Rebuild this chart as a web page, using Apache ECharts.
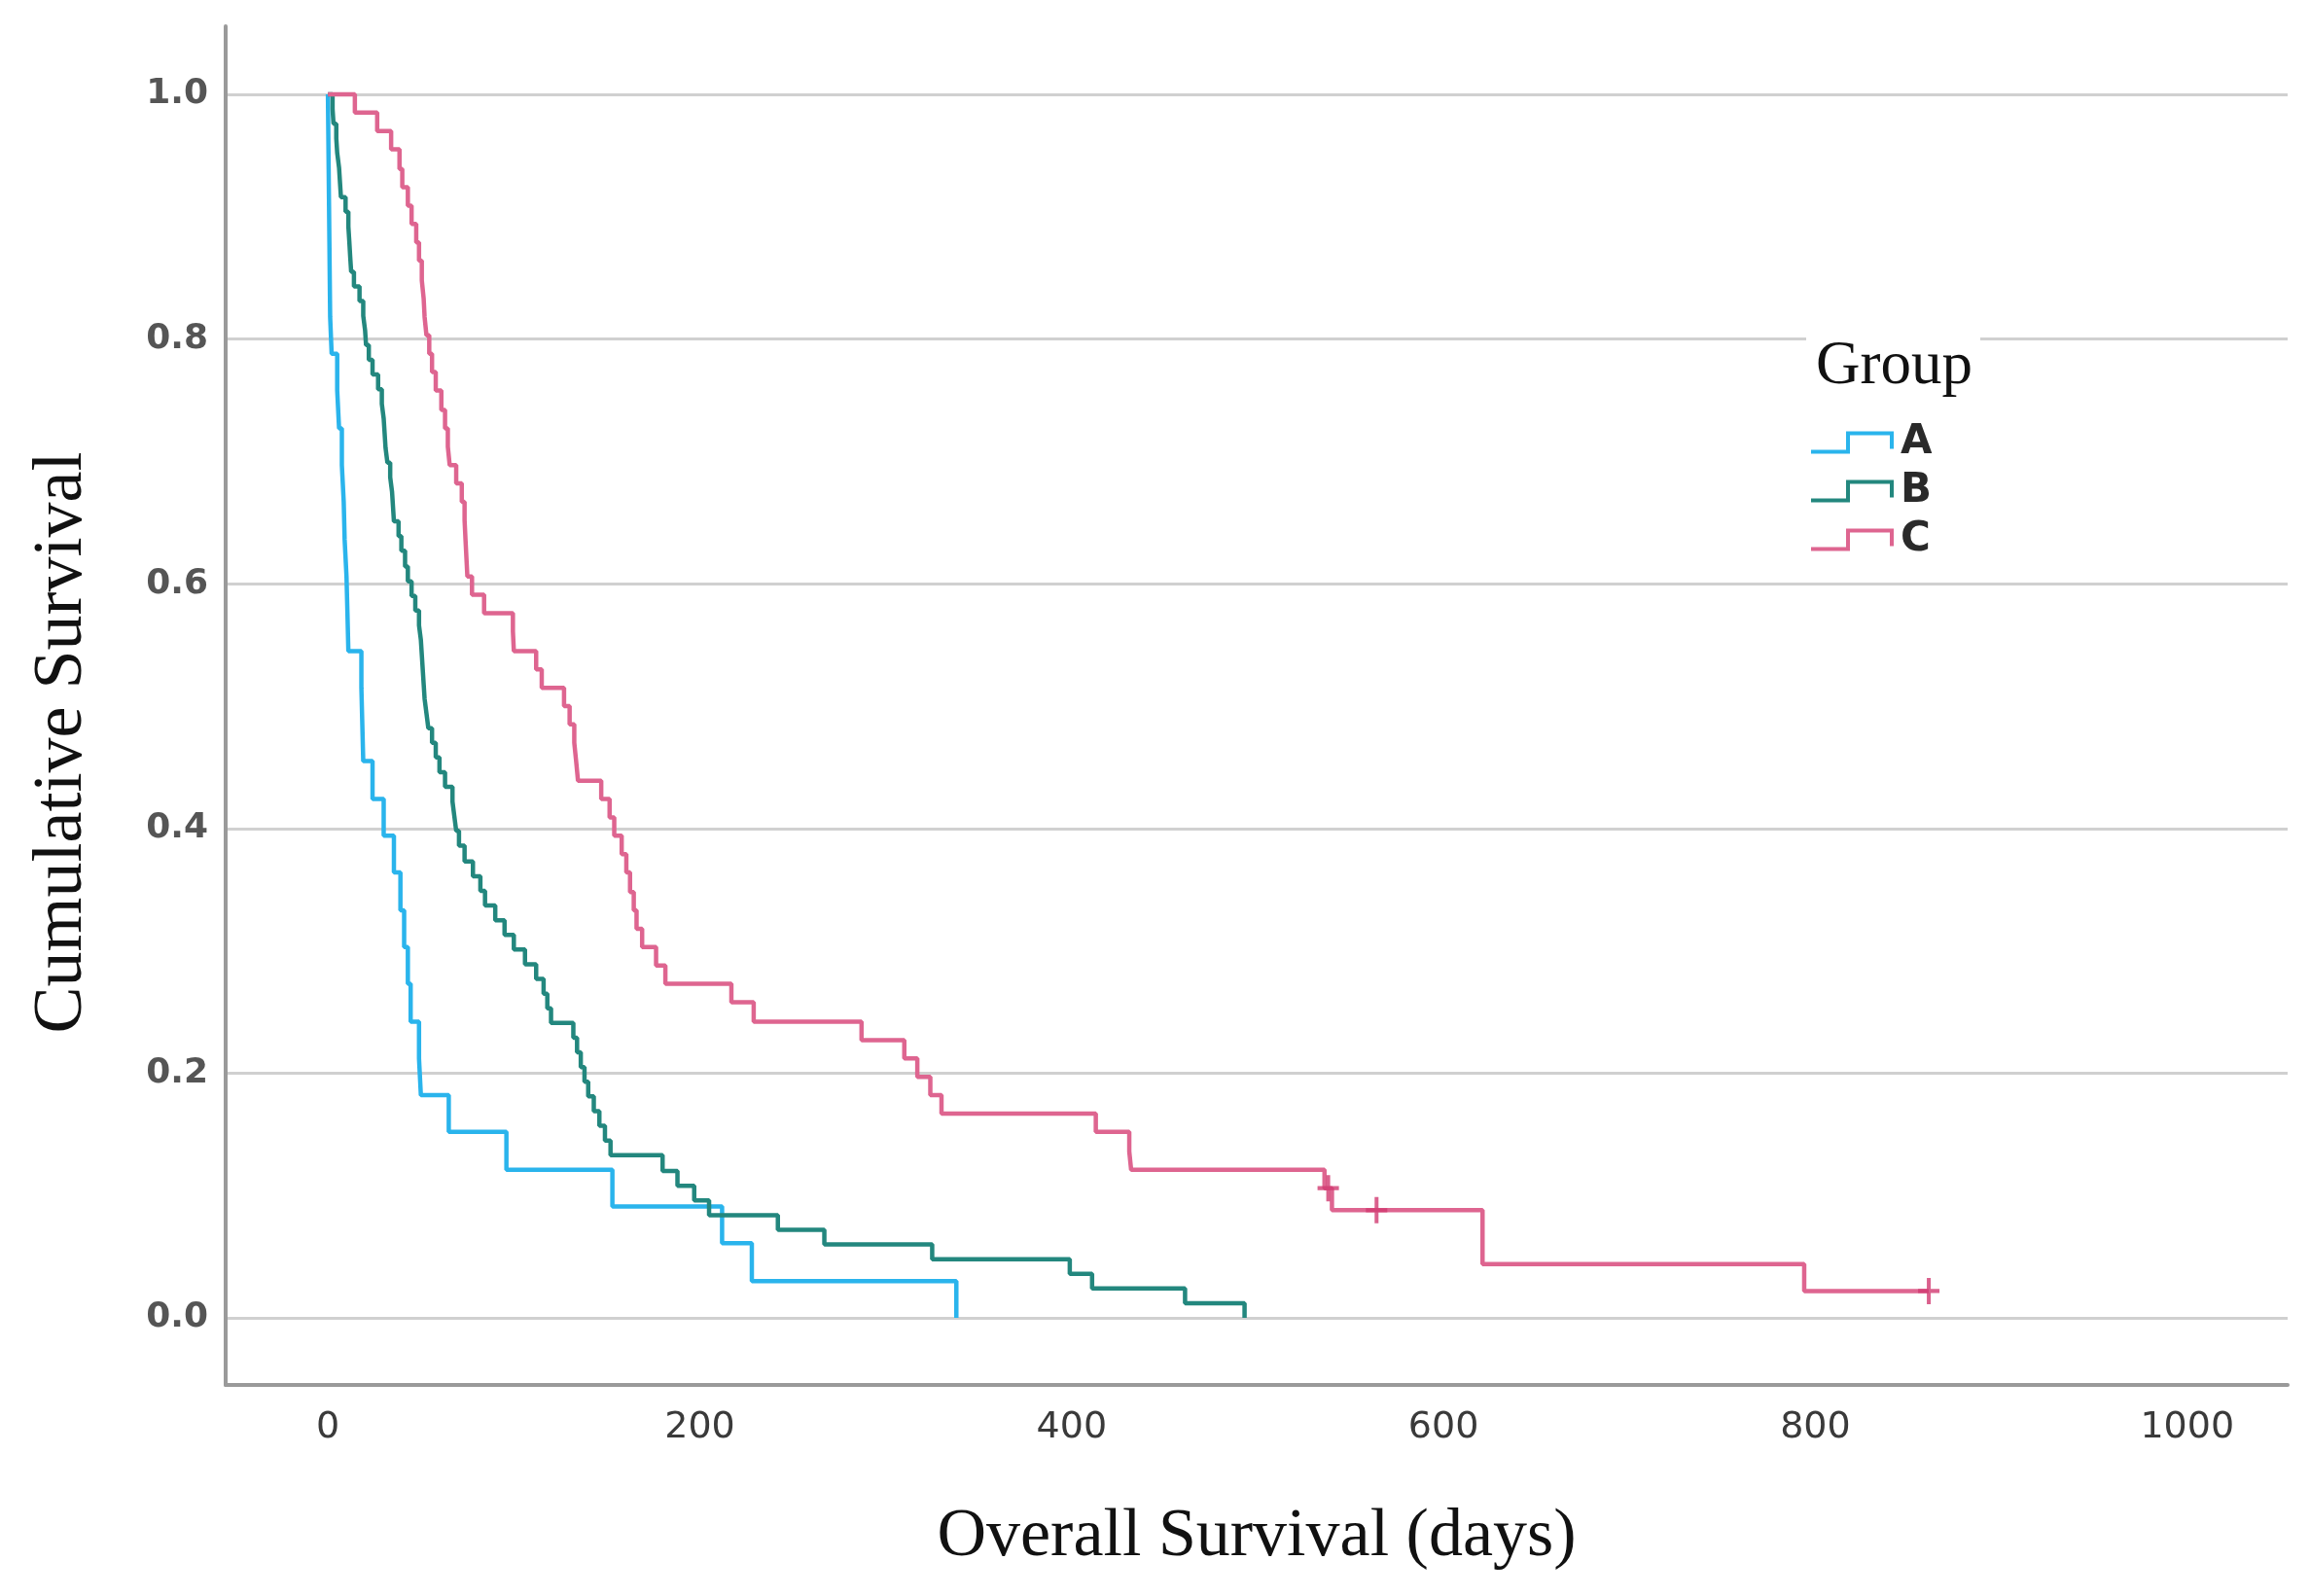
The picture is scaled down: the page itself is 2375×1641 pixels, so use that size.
<!DOCTYPE html>
<html>
<head>
<meta charset="utf-8">
<script src="https://cdn.jsdelivr.net/npm/echarts@6/dist/echarts.min.js"></script>
<style>html,body{margin:0;padding:0;background:#fff}#c{width:2375px;height:1641px}</style>
</head>
<body>
<div id="c"></div>
<script>
// ---- data ----
const groupNames = ['A', 'B', 'C'];
const xTickValues = [0, 200, 400, 600, 800, 1000];
const yTickValues = [0, 0.2, 0.4, 0.6, 0.8, 1.0];

// Group A: event days and survival after each event
const aDays = [0.2, 0.4, 0.6, 0.8, 1.0, 1.2, 2, 5, 6, 7.5, 8.5, 9, 10, 10.5, 11, 18, 18.5, 19, 24, 30, 35.5, 39, 41, 43, 44.5, 49, 50, 65, 96, 153, 212, 228, 338];
const aSurv = [0.970, 0.939, 0.909, 0.879, 0.848, 0.818, 0.788, 0.758, 0.727, 0.697, 0.667, 0.636, 0.606, 0.576, 0.545, 0.515, 0.485, 0.455, 0.424, 0.394, 0.364, 0.333, 0.303, 0.273, 0.242, 0.212, 0.182, 0.152, 0.121, 0.091, 0.061, 0.030, 0];

// Group B
const bDays = [2.5, 3, 4.5, 5, 6, 6.5, 7, 9.5, 11, 11.5, 12, 12.5, 14, 17, 19, 20, 20.5, 22, 24, 27, 29, 30, 30.5, 31, 32, 33.5, 34.5, 35, 35.5, 38, 39.5, 41.5, 43, 45, 47, 49, 50, 50.5, 51, 51.5, 52, 53, 54, 56, 58, 60, 63, 67, 68, 69, 70.5, 73.5, 78, 82, 84.5, 90, 95, 100, 106, 112, 116, 118, 120, 132, 134, 136, 138, 140, 143, 146, 149, 152, 180, 188, 197, 205, 242, 267, 325, 399, 411, 461, 493];
const bSurv = [0.988, 0.976, 0.964, 0.952, 0.940, 0.928, 0.916, 0.904, 0.892, 0.880, 0.867, 0.855, 0.843, 0.831, 0.819, 0.807, 0.795, 0.783, 0.771, 0.759, 0.747, 0.735, 0.723, 0.711, 0.699, 0.687, 0.675, 0.663, 0.651, 0.639, 0.627, 0.614, 0.602, 0.590, 0.578, 0.566, 0.554, 0.542, 0.530, 0.518, 0.506, 0.494, 0.482, 0.470, 0.458, 0.446, 0.434, 0.422, 0.410, 0.398, 0.386, 0.373, 0.361, 0.349, 0.337, 0.325, 0.313, 0.301, 0.289, 0.277, 0.265, 0.253, 0.241, 0.229, 0.217, 0.205, 0.193, 0.181, 0.169, 0.157, 0.145, 0.133, 0.120, 0.108, 0.096, 0.084, 0.072, 0.060, 0.048, 0.036, 0.024, 0.012, 0];

// Group C (includes censored times, where survival does not change)
const cDays = [14.5, 26.5, 34, 38.5, 40, 43, 45, 47.5, 49, 50.5, 51.5, 52, 53, 54.5, 56, 58, 61, 63, 64.5, 65.5, 69, 72, 73.5, 74, 74.5, 75, 77.5, 84, 99.5, 100, 112, 115, 127, 130, 132.5, 133.5, 134.5, 147, 151.5, 154, 158, 160.5, 162.5, 164.5, 166, 169, 176.5, 181.5, 217, 229, 287, 310, 317, 324, 330, 413, 431, 432, 536, 538, 540, 564, 621, 794, 861];
const cSurv = [0.985, 0.970, 0.955, 0.939, 0.924, 0.909, 0.894, 0.879, 0.864, 0.848, 0.833, 0.818, 0.803, 0.788, 0.773, 0.758, 0.742, 0.727, 0.712, 0.697, 0.682, 0.667, 0.652, 0.636, 0.621, 0.606, 0.591, 0.576, 0.561, 0.545, 0.530, 0.515, 0.500, 0.485, 0.470, 0.455, 0.439, 0.424, 0.409, 0.394, 0.379, 0.364, 0.348, 0.333, 0.318, 0.303, 0.288, 0.273, 0.258, 0.242, 0.227, 0.212, 0.197, 0.182, 0.167, 0.152, 0.136, 0.121, 0.106, 0.106, 0.088, 0.088, 0.044, 0.022, 0.022];

// Censored observations (marks) in group C
const cCensorDays = [538, 564, 861];
const cCensorSurv = [0.106, 0.088, 0.022];

// ---- build ----
function km(days, surv) {
  const out = [[0, 1]];
  for (let i = 0; i < days.length; i++) out.push([days[i], surv[i]]);
  return out;
}
const colors = ['#2ab4ec', '#23877e', '#de6590'];
const stepIcon = 'path://M0,19h39v4h-39z M36,0h4v23h-4z M36,0h49v4h-49z M81,0h4v18h-4z';

const chart = echarts.init(document.getElementById('c'), null, {renderer: 'canvas'});
const option = {
  animation: false,
  backgroundColor: '#fff',
  title: {
    text: 'Group',
    left: 1857, top: 336,
    padding: [10, 8, 6, 10],
    backgroundColor: '#fff',
    textStyle: {fontFamily: 'Liberation Serif', fontSize: 63, fontWeight: 'normal', color: '#111'}
  },
  legend: {
    data: groupNames,
    orient: 'vertical',
    left: 1862, top: 434,
    padding: 0,
    itemGap: 8,
    itemWidth: 85, itemHeight: 24,
    icon: stepIcon,
    textStyle: {fontFamily: 'DejaVu Sans', fontSize: 42, fontWeight: 'bold', color: '#2a2a2a', padding: [0, 0, 0, 2]}
  },
  grid: {left: 232, right: 23, top: 27, bottom: 217, containLabel: false, outerBoundsMode: 'none'},
  xAxis: {
    type: 'value', min: -55, max: 1054,
    name: 'Overall Survival (days)', nameLocation: 'middle', nameGap: 122,
    nameTextStyle: {fontFamily: 'Liberation Serif', fontSize: 70, color: '#111'},
    axisLine: {show: true, onZero: false, lineStyle: {color: '#9a9a9a', width: 4}},
    axisTick: {show: false, customValues: xTickValues},
    axisLabel: {customValues: xTickValues, margin: 25, fontFamily: 'DejaVu Sans', fontSize: 38, color: '#3a3a3a',
      formatter: v => String(v)},
    splitLine: {show: false}
  },
  yAxis: {
    type: 'value', min: -0.0548, max: 1.0556,
    name: 'Cumulative Survival', nameLocation: 'middle', nameGap: 132,
    nameTextStyle: {fontFamily: 'Liberation Serif', fontSize: 72, color: '#111', padding: [0, 76, 0, 0]},
    axisLine: {show: true, onZero: false, lineStyle: {color: '#9a9a9a', width: 4}},
    axisTick: {show: false, customValues: yTickValues},
    axisLabel: {customValues: yTickValues, margin: 18, fontFamily: 'DejaVu Sans', fontSize: 36, fontWeight: 'bold', color: '#555',
      formatter: v => v.toFixed(1)},
    splitLine: {show: true, lineStyle: {color: '#d0d0d0', width: 3}}
  },
  series: [
    {name: 'A', type: 'line', step: 'end', data: km(aDays, aSurv), showSymbol: false, symbol: 'none',
     lineStyle: {color: colors[0], width: 4.5}, itemStyle: {color: colors[0]}, z: 3},
    {name: 'B', type: 'line', step: 'end', data: km(bDays, bSurv), showSymbol: false, symbol: 'none',
     lineStyle: {color: colors[1], width: 4.5}, itemStyle: {color: colors[1]}, z: 4},
    {name: 'C', type: 'line', step: 'end', data: km(cDays, cSurv), showSymbol: false, symbol: 'none',
     lineStyle: {color: colors[2], width: 4.5}, itemStyle: {color: colors[2]}, z: 5},
    {name: 'C censored', type: 'scatter',
     data: cCensorDays.map((d, i) => [d, cCensorSurv[i]]),
     symbol: 'path://M9,0h4v26h-4z M0,11h22v4h-22z', symbolSize: [22, 27],
     itemStyle: {color: '#d13a70'}, z: 6, silent: true}
  ]
};
chart.setOption(option);
</script>
</body>
</html>
